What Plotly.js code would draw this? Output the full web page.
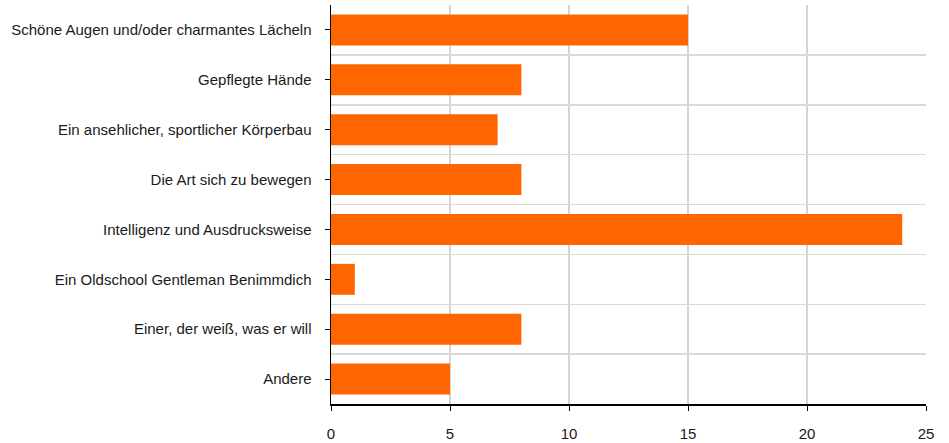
<!DOCTYPE html>
<html><head><meta charset="utf-8">
<script src="https://cdn.plot.ly/plotly-3.0.1.min.js"></script>
<style>html,body{margin:0;padding:0;background:#fff}</style>
</head><body><div id="chart" style="width:949px;height:443px"></div>
<script>
const categories = [
  "Schöne Augen und/oder charmantes Lächeln",
  "Gepflegte Hände",
  "Ein ansehlicher, sportlicher Körperbau",
  "Die Art sich zu bewegen",
  "Intelligenz und Ausdrucksweise",
  "Ein Oldschool Gentleman Benimmdich",
  "Einer, der weiß, was er will",
  "Andere"
];
const values = [15, 8, 7, 8, 24, 1, 8, 5];
const xTicks = [0, 5, 10, 15, 20, 25];

const data = [{
  type: 'bar', orientation: 'h',
  y: categories, x: values,
  marker: {color: '#ff6600'}, width: 0.62,
  hoverinfo: 'x+y'
}, {
  type: 'scatter', x: [null], y: [null], xaxis: 'x', yaxis: 'y2', showlegend: false, hoverinfo: 'skip'
}];

const layout = {
  width: 949, height: 443,
  margin: {l: 331, r: 23, t: 5, b: 39},
  paper_bgcolor: '#fff', plot_bgcolor: 'rgba(0,0,0,0)',
  showlegend: false,
  font: {family: 'Liberation Sans, Arial, sans-serif', size: 15, color: '#1a1a1a'},
  xaxis: {
    range: [0, 25], tickvals: xTicks, ticktext: xTicks.map(String),
    showgrid: true, gridcolor: '#d4d4d4', gridwidth: 1.5,
    zeroline: false, showline: true, linecolor: '#000', linewidth: 1.5,
    ticks: 'outside', ticklen: 5, tickcolor: '#000', tickwidth: 1,
    ticklabelstandoff: 10,
    tickfont: {size: 15}, fixedrange: true
  },
  yaxis: {
    type: 'category', categoryorder: 'array', categoryarray: categories.slice().reverse(),
    range: [-0.5, categories.length - 0.5],
    showgrid: false, zeroline: false, showline: true, linecolor: '#000', linewidth: 1.5,
    ticks: 'outside', ticklen: 5, tickcolor: '#000', tickwidth: 1,
    ticklabelstandoff: 10,
    tickfont: {size: 15}, fixedrange: true
  },
  yaxis2: {
    overlaying: 'y', range: [0, categories.length], dtick: 1, tick0: 0,
    showgrid: true, gridcolor: '#d9d9d9', gridwidth: 1.5,
    showticklabels: false, ticks: '', zeroline: false, showline: false,
    layer: 'below traces', fixedrange: true
  }
};

Plotly.newPlot('chart', data, layout, {displayModeBar: false, staticPlot: true});
</script></body></html>
